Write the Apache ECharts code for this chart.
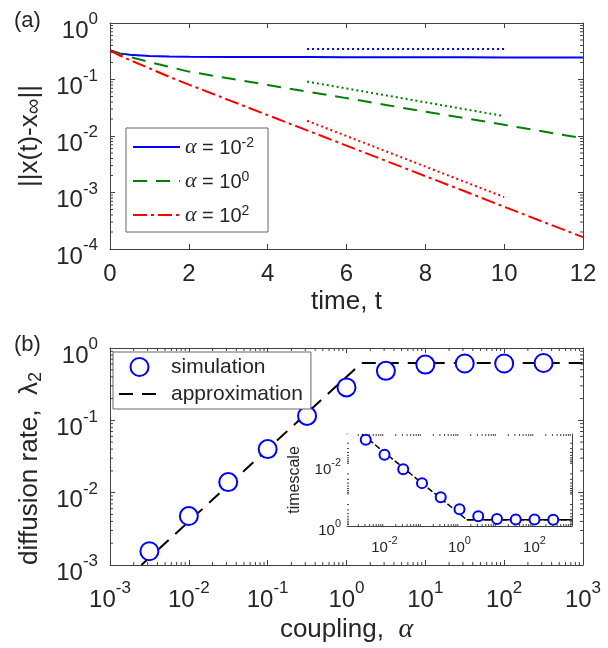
<!DOCTYPE html>
<html><head><meta charset="utf-8">
<script src="https://cdn.jsdelivr.net/npm/echarts@6/dist/echarts.min.js"></script>
<style>html,body{margin:0;padding:0;background:#fff}#c{width:608px;height:648px}</style>
</head><body><div id="c"></div>
<script>
// ---------------- data ----------------
const timeT = [0, 0.25, 0.5, 1, 1.5, 2, 3, 4, 5, 6, 7, 8, 9, 10, 11, 12];
const normAlphaSmall = [0.33, 0.29, 0.275, 0.26, 0.255, 0.252, 0.25, 0.25, 0.249, 0.248, 0.248, 0.247, 0.247, 0.246, 0.246, 0.245];
const normAlphaOne = [0.324, 0.285, 0.251, 0.204, 0.168, 0.138, 0.105, 0.0802, 0.061, 0.0468, 0.0355, 0.0269, 0.0207, 0.0158, 0.012, 0.00912];
const normAlphaLarge = [0.324, 0.266, 0.221, 0.158, 0.112, 0.0813, 0.0437, 0.0234, 0.0126, 0.00676, 0.00363, 0.00195, 0.00105, 0.00056, 0.0003, 0.000162];
const refTime = [5, 10];
const refAlphaSmall = [0.345, 0.345];
const refAlphaOne = [0.092, 0.0225];
const refAlphaLarge = [0.0186, 0.00083];
const timeRange = [0, 12];
const timeStep = 2;
const normRange = [1e-4, 1];

const couplingSim = [0.00316, 0.01, 0.0316, 0.1, 0.316, 1, 3.16, 10, 31.6, 100, 316];
const rateSim = [0.00155, 0.00475, 0.014, 0.040, 0.115, 0.285, 0.483, 0.59, 0.61, 0.61, 0.62];
const couplingApprox = [0.0025, 1.55, 1000];
const rateApprox = [0.001, 0.62, 0.62];
const couplingRange = [1e-3, 1e3];
const rateRange = [1e-3, 1];

const legendTop = ['α = 10^-2', 'α = 10^0', 'α = 10^2'];
const legendBottom = ['simulation', 'approximation'];

// ---------------- styling ----------------
const AX = '#404040', TXT = '#262626';
const F = 'Liberation Sans, Arial, Helvetica, sans-serif';
const SERIF = 'Liberation Serif, Times New Roman, serif';
const minorMantissas = [2, 3, 4, 5, 6, 7, 8, 9];

function zip(a, b) { return a.map((v, i) => [v, b[i]]); }
function richPow(base, sup, lh, slh) {
  return {
    b: { fontSize: base, lineHeight: lh, verticalAlign: 'bottom', fontFamily: F, color: TXT },
    s: { fontSize: sup, lineHeight: slh, verticalAlign: 'top', fontFamily: F, color: TXT }
  };
}
function powLabel(v) { const e = Math.round(Math.log10(v)); return '{b|10}{s|' + e + '}'; }
function powLabelEven(v) { const e = Math.round(Math.log10(v)); return (e % 2 === 0) ? '{b|10}{s|' + e + '}' : ''; }

function baseAxis(grid, extra) {
  return Object.assign({
    gridIndex: grid,
    axisLine: { show: true, onZero: false, lineStyle: { color: AX, width: 1 } },
    axisTick: { show: true, inside: true, length: 5, lineStyle: { color: AX } },
    splitLine: { show: false },
    minorTick: { show: false }
  }, extra);
}

function minorTicks(xi, yi, xr, yr, xLog, yLog, len) {
  return {
    type: 'custom', xAxisIndex: xi, yAxisIndex: yi, silent: true, clip: false, z: 10,
    data: [[xr[0], yr[0]]],
    renderItem: function (params, api) {
      const p0 = api.coord([xr[0], yr[0]]), p1 = api.coord([xr[1], yr[1]]);
      const L = Math.min(p0[0], p1[0]), R = Math.max(p0[0], p1[0]);
      const T = Math.min(p0[1], p1[1]), B = Math.max(p0[1], p1[1]);
      const kids = [];
      const st = { stroke: AX, lineWidth: 1 };
      function seg(x1, y1, x2, y2) { kids.push({ type: 'line', shape: { x1: x1, y1: y1, x2: x2, y2: y2 }, style: st }); }
      if (yLog) {
        for (let k = Math.round(Math.log10(yr[0])); k < Math.round(Math.log10(yr[1])); k++) {
          minorMantissas.forEach(function (m) {
            const py = api.coord([xr[0], m * Math.pow(10, k)])[1];
            seg(L, py, L + len, py); seg(R, py, R - len, py);
          });
        }
      }
      if (xLog) {
        for (let k = Math.round(Math.log10(xr[0])); k < Math.round(Math.log10(xr[1])); k++) {
          minorMantissas.forEach(function (m) {
            const px = api.coord([m * Math.pow(10, k), yr[0]])[0];
            seg(px, B, px, B - len); seg(px, T, px, T + len);
          });
        }
      }
      return { type: 'group', children: kids };
    }
  };
}

const chart = echarts.init(document.getElementById('c'), null, { renderer: 'canvas' });

const mainRich = richPow(24, 17, 32, 14);
const insetRich = richPow(15, 11, 20, 8);

const option = {
  animation: false,
  backgroundColor: '#fff',
  textStyle: { fontFamily: F, color: TXT },
  grid: [
    { left: 110, top: 23, width: 473, height: 226, containLabel: false },
    { left: 110, top: 348, width: 473, height: 217, containLabel: false },
    { left: 347, top: 434, width: 225, height: 92, containLabel: false, show: true, backgroundColor: '#fff', borderWidth: 0, z: 5 }
  ],
  graphic: [
    { type: 'text', left: 14, top: 10, style: { text: '(a)', font: '22px ' + F, fill: TXT } },
    { type: 'text', left: 14, top: 334, style: { text: '(b)', font: '22px ' + F, fill: TXT } }
  ],
  xAxis: [
    baseAxis(0, { type: 'value', min: timeRange[0], max: timeRange[1], interval: timeStep, position: 'bottom',
      axisLabel: { fontSize: 24, color: TXT, fontFamily: F, margin: 13 },
      name: 'time, t', nameLocation: 'middle', nameGap: 40,
      nameTextStyle: { fontSize: 26, color: TXT, fontFamily: F } }),
    baseAxis(0, { type: 'value', min: timeRange[0], max: timeRange[1], interval: timeStep, position: 'top', axisLabel: { show: false } }),
    baseAxis(1, { type: 'log', logBase: 10, min: couplingRange[0], max: couplingRange[1], splitNumber: 6, position: 'bottom',
      axisLabel: { formatter: powLabel, rich: mainRich, margin: 15 },
      name: '{n|coupling,  }{g|α}', nameLocation: 'middle', nameGap: 50,
      nameTextStyle: { fontSize: 26, color: TXT, fontFamily: F, rich: {
        n: { fontSize: 26, fontFamily: F, color: TXT, lineHeight: 30 },
        g: { fontSize: 28, fontFamily: SERIF, fontStyle: 'italic', color: TXT, lineHeight: 30 } } } }),
    baseAxis(1, { type: 'log', logBase: 10, min: couplingRange[0], max: couplingRange[1], splitNumber: 6, position: 'top', axisLabel: { show: false } }),
    baseAxis(2, { type: 'log', logBase: 10, min: couplingRange[0], max: couplingRange[1], splitNumber: 6, position: 'bottom',
      axisTick: { show: true, inside: true, length: 3, lineStyle: { color: AX } },
      axisLabel: { formatter: powLabelEven, rich: insetRich, margin: 9 } }),
    baseAxis(2, { type: 'log', logBase: 10, min: couplingRange[0], max: couplingRange[1], splitNumber: 6, position: 'top',
      axisTick: { show: true, inside: true, length: 3, lineStyle: { color: AX } }, axisLabel: { show: false } })
  ],
  yAxis: [
    baseAxis(0, { type: 'log', logBase: 10, min: normRange[0], max: normRange[1], splitNumber: 4, position: 'left',
      axisLabel: { formatter: powLabel, rich: mainRich, margin: 12, padding: [8, 0, 0, 0] },
      name: '{n|||x(t)-x}{u|∞}{n|||}', nameLocation: 'middle', nameGap: 64,
      nameTextStyle: { fontSize: 26, color: TXT, fontFamily: F, rich: {
        n: { fontSize: 26, fontFamily: F, color: TXT, lineHeight: 30 },
        u: { fontSize: 22, fontFamily: F, color: TXT, lineHeight: 14, verticalAlign: 'bottom' } } } }),
    baseAxis(0, { type: 'log', logBase: 10, min: normRange[0], max: normRange[1], splitNumber: 4, position: 'right', axisLabel: { show: false } }),
    baseAxis(1, { type: 'log', logBase: 10, min: rateRange[0], max: rateRange[1], splitNumber: 3, position: 'left',
      axisLabel: { formatter: powLabel, rich: mainRich, margin: 12, padding: [8, 0, 0, 0] },
      name: '{n|diffusion rate,  λ}{u|2}', nameLocation: 'middle', nameGap: 60,
      nameTextStyle: { fontSize: 26, color: TXT, fontFamily: F, padding: [0, 24, 0, 0], rich: {
        n: { fontSize: 26, fontFamily: F, color: TXT, lineHeight: 30 },
        u: { fontSize: 18, fontFamily: F, color: TXT, lineHeight: 14, verticalAlign: 'bottom' } } } }),
    baseAxis(1, { type: 'log', logBase: 10, min: rateRange[0], max: rateRange[1], splitNumber: 3, position: 'right', axisLabel: { show: false } }),
    baseAxis(2, { type: 'log', logBase: 10, min: rateRange[0], max: rateRange[1], splitNumber: 3, inverse: true, position: 'left',
      axisTick: { show: true, inside: true, length: 3, lineStyle: { color: AX } },
      axisLabel: { formatter: powLabelEven, rich: insetRich, margin: 6, padding: [5, 0, 0, 0] },
      name: 'timescale', nameLocation: 'middle', nameGap: 44,
      nameTextStyle: { fontSize: 16, color: TXT, fontFamily: F } }),
    baseAxis(2, { type: 'log', logBase: 10, min: rateRange[0], max: rateRange[1], splitNumber: 3, inverse: true, position: 'right',
      axisTick: { show: true, inside: true, length: 3, lineStyle: { color: AX } }, axisLabel: { show: false } })
  ],
  legend: [
    {
      data: legendTop.map(function (n) { return { name: n, itemStyle: { opacity: 0 } }; }),
      orient: 'vertical', left: 126, top: 128,
      padding: [8, 14, 6, 6], itemGap: 12, itemWidth: 47, itemHeight: 14,
      backgroundColor: '#fff', borderColor: '#666', borderWidth: 1,
      formatter: function (name) {
        const parts = name.split('^');
        return '{g|α}{n| = 10}{s|' + parts[1] + '}';
      },
      textStyle: { rich: {
        g: { fontFamily: SERIF, fontStyle: 'italic', fontSize: 22, lineHeight: 22, verticalAlign: 'bottom', color: TXT },
        n: { fontFamily: F, fontSize: 20, lineHeight: 22, verticalAlign: 'bottom', color: TXT },
        s: { fontFamily: F, fontSize: 14, lineHeight: 10, verticalAlign: 'top', color: TXT } } }
    },
    {
      data: [{ name: legendBottom[0] }, { name: legendBottom[1], itemStyle: { opacity: 0 } }],
      orient: 'vertical', left: 113, top: 352,
      padding: [3, 8, 3, 5], itemGap: 3, itemWidth: 41, itemHeight: 18,
      backgroundColor: '#fff', borderColor: '#666', borderWidth: 1,
      textStyle: { fontFamily: F, fontSize: 21, lineHeight: 24, color: TXT, padding: [0, 0, 0, 6] }
    }
  ],
  series: [
    { name: legendTop[0], type: 'line', xAxisIndex: 0, yAxisIndex: 0, data: zip(timeT, normAlphaSmall),
      symbol: 'none', smooth: false, lineStyle: { color: '#0000ff', width: 2 }, itemStyle: { color: '#0000ff' } },
    { name: legendTop[1], type: 'line', xAxisIndex: 0, yAxisIndex: 0, data: zip(timeT, normAlphaOne),
      symbol: 'none', lineStyle: { color: '#008000', width: 2, type: [14, 9] }, itemStyle: { color: '#008000' } },
    { name: legendTop[2], type: 'line', xAxisIndex: 0, yAxisIndex: 0, data: zip(timeT, normAlphaLarge),
      symbol: 'none', lineStyle: { color: '#ff0000', width: 2, type: [14, 4, 3, 4] }, itemStyle: { color: '#ff0000' } },
    { name: 'ref1', type: 'line', xAxisIndex: 0, yAxisIndex: 0, data: zip(refTime, refAlphaSmall),
      symbol: 'none', lineStyle: { color: '#0000ff', width: 2, type: [2, 3] } },
    { name: 'ref2', type: 'line', xAxisIndex: 0, yAxisIndex: 0, data: zip(refTime, refAlphaOne),
      symbol: 'none', lineStyle: { color: '#008000', width: 2, type: [2, 3] } },
    { name: 'ref3', type: 'line', xAxisIndex: 0, yAxisIndex: 0, data: zip(refTime, refAlphaLarge),
      symbol: 'none', lineStyle: { color: '#ff0000', width: 2, type: [2, 3] } },
    minorTicks(0, 0, timeRange, normRange, false, true, 3),

    { name: legendBottom[1], type: 'line', xAxisIndex: 2, yAxisIndex: 2, data: zip(couplingApprox, rateApprox),
      symbol: 'none', lineStyle: { color: '#000', width: 2, type: [14, 9] }, itemStyle: { color: '#000' }, z: 2 },
    { name: legendBottom[0], type: 'scatter', xAxisIndex: 2, yAxisIndex: 2, data: zip(couplingSim, rateSim),
      symbol: 'emptyCircle', symbolSize: 18, itemStyle: { color: '#0000ff', borderColor: '#0000ff', borderWidth: 2.5, opacity: 1 }, z: 3 },
    minorTicks(2, 2, couplingRange, rateRange, true, true, 3),

    { name: 'insetApprox', type: 'line', xAxisIndex: 4, yAxisIndex: 4, data: zip(couplingApprox, rateApprox),
      symbol: 'none', lineStyle: { color: '#000', width: 1.5, type: [6, 2.5] }, z: 6 },
    { name: 'insetApproxPlateau', type: 'line', xAxisIndex: 4, yAxisIndex: 4,
      data: zip(couplingApprox.slice(1), rateApprox.slice(1)),
      symbol: 'none', lineStyle: { color: '#000', width: 1.5 }, z: 6 },
    { name: 'insetSim', type: 'scatter', xAxisIndex: 4, yAxisIndex: 4, data: zip(couplingSim, rateSim),
      symbol: 'emptyCircle', symbolSize: 10, itemStyle: { color: '#0000ff', borderColor: '#0000ff', borderWidth: 2, opacity: 1 }, z: 7 },
    minorTicks(4, 4, couplingRange, rateRange, true, true, 2)
  ]
};
chart.setOption(option);
</script>
</body></html>
